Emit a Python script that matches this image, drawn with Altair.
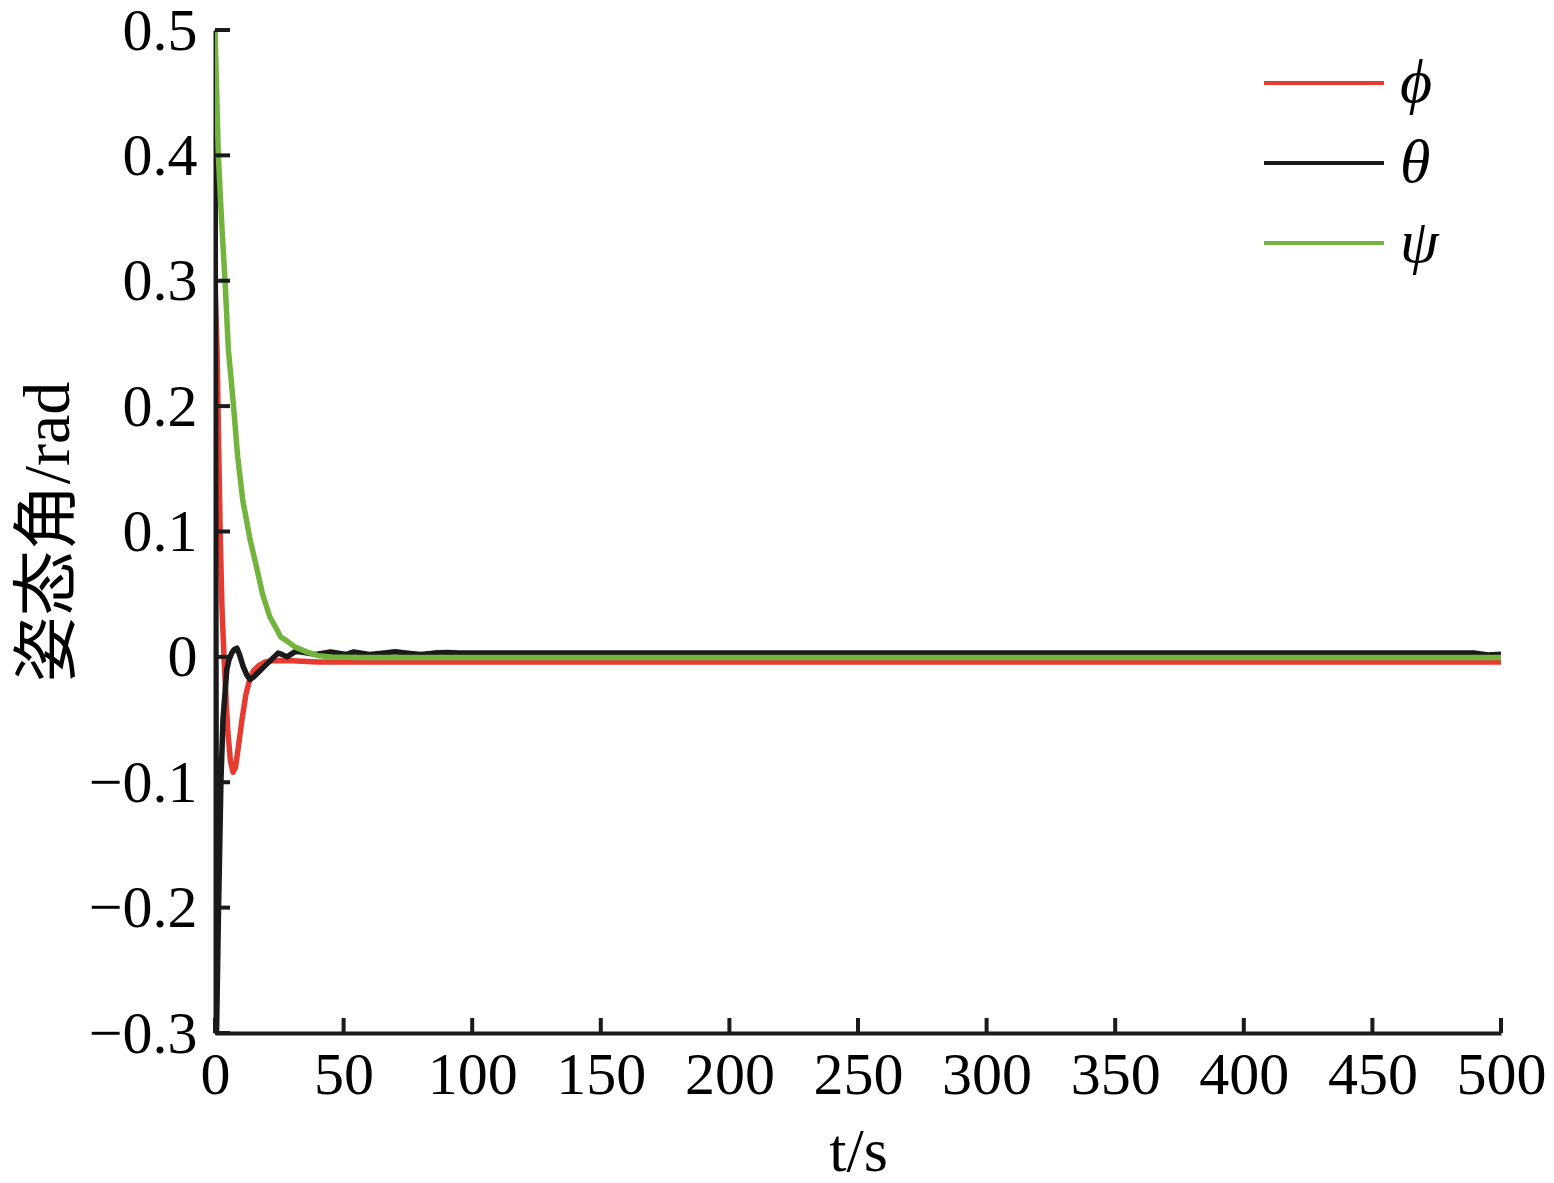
import altair as alt
import pandas as pd

# ---- data ----
phi_t = [0, 0.8, 1.5, 2, 2.7, 3.5, 4.2, 5, 6, 7, 8, 9, 10.5, 12, 13.5, 15, 17, 19.5, 23, 30, 40, 60, 100, 200, 300, 400, 500]
phi_v = [0.3, 0.245, 0.16, 0.1, 0.04, 0.0, -0.03, -0.06, -0.083, -0.092, -0.088, -0.073, -0.05, -0.03, -0.018,
         -0.011, -0.007, -0.004, -0.003, -0.003, -0.004, -0.004, -0.004, -0.004, -0.004, -0.004, -0.004]

theta_t = [0, 0.3, 0.6, 1.3, 2.3, 3.1, 4.6, 5.5, 6.5, 7.5, 8.5, 9.5, 11, 12.5, 13.6, 15, 17, 19, 21, 23, 24.5, 26,
           28, 29.5, 31, 33, 36, 39, 42, 45, 48, 51, 54, 57, 60, 65, 70, 75, 80, 85, 90, 95, 100, 200, 300, 400,
           490, 495, 500]
theta_v = [0.45, 0.1, -0.3, -0.21, -0.1, -0.05, -0.01, -0.002, 0.003, 0.006, 0.007, 0.002, -0.008, -0.015, -0.018,
           -0.016, -0.012, -0.008, -0.004, 0.0, 0.003, 0.002, 0.0, 0.002, 0.004, 0.004, 0.003, 0.002, 0.003, 0.004,
           0.003, 0.002, 0.004, 0.003, 0.002, 0.003, 0.004, 0.003, 0.002, 0.003, 0.0035, 0.003, 0.003, 0.003, 0.003,
           0.003, 0.003, 0.0015, 0.002]

psi_t = [0, 1.3, 2.5, 3.9, 5.2, 7, 8.8, 10.8, 13.5, 16.1, 18.5, 21.3, 24, 25.5, 27.8, 31, 35.6, 40, 45, 55, 100,
         200, 300, 400, 500]
psi_v = [0.5, 0.4, 0.35, 0.3, 0.245, 0.205, 0.16, 0.125, 0.095, 0.072, 0.05, 0.032, 0.022, 0.016, 0.013, 0.008,
         0.004, 0.001, 0.0, -0.0005, -0.0005, -0.0005, -0.0005, -0.0005, -0.0005]

series_names = ["ϕ", "θ", "ψ"]
series_colors = ["#E63B30", "#1A1A1A", "#73B43E"]

x_ticks = [0, 50, 100, 150, 200, 250, 300, 350, 400, 450, 500]
y_ticks = [-0.3, -0.2, -0.1, 0.0, 0.1, 0.2, 0.3, 0.4, 0.5]

# ---- build table ----
rows = []
for name, ts, vs in zip(series_names, [phi_t, theta_t, psi_t], [phi_v, theta_v, psi_v]):
    for i, (t, v) in enumerate(zip(ts, vs)):
        rows.append({"t": t, "v": v, "s": name, "i": i})
df = pd.DataFrame(rows)

W, H = 1286, 1003
SERIF = "Liberation Serif, DejaVu Serif, Noto Sans CJK SC"

xscale = alt.Scale(domain=[0, 500], nice=False, zero=False)
yscale = alt.Scale(domain=[-0.3, 0.5], nice=False, zero=False)

lines = alt.Chart(df).mark_line(strokeWidth=5.5, clip=True, strokeJoin="round").encode(
    x=alt.X("t:Q", scale=xscale,
            axis=alt.Axis(values=x_ticks, title="t/s", ticks=False, grid=False,
                          labelFontSize=60, labelPadding=13, titleFontSize=62, titlePadding=16,
                          labelFlush=False)),
    y=alt.Y("v:Q", scale=yscale,
            axis=alt.Axis(values=y_ticks, title="姿态角/rad", ticks=False, grid=False,
                          labelFontSize=60, labelPadding=18, titleFontSize=66, titlePadding=6,
                          labelFlush=False, labelBaseline="alphabetic", labelOffset=19,
                          labelExpr="datum.value == 0 ? '0' : format(datum.value, '.1f')")),
    color=alt.Color("s:N", scale=alt.Scale(domain=series_names, range=series_colors),
                    legend=alt.Legend(title=None, orient="none", legendX=1078, legendY=22,
                                      symbolType="M-6,0H6", symbolSize=400, symbolStrokeWidth=4,
                                      labelFontSize=62, labelFont=SERIF, labelFontStyle="italic",
                                      labelOffset=45, rowPadding=18, padding=0, labelColor="black")),
    order="i:Q",
)

xt = pd.DataFrame({"t": x_ticks})
yt = pd.DataFrame({"v": y_ticks})

xtick_rules = alt.Chart(xt).mark_rule(color="#1A1A1A", strokeWidth=4).encode(
    x=alt.X("t:Q", scale=xscale), y=alt.value(H), y2=alt.value(H - 15))
ytick_rules = alt.Chart(yt).mark_rule(color="#1A1A1A", strokeWidth=4).encode(
    y=alt.Y("v:Q", scale=yscale), x=alt.value(0), x2=alt.value(15))

chart = alt.layer(lines, xtick_rules, ytick_rules).properties(
    width=W, height=H,
    autosize=alt.AutoSizeParams(type="none"),
    padding={"left": 207, "top": 22, "right": 45, "bottom": 150},
).configure_view(stroke=None).configure_axis(
    domainColor="#1A1A1A", domainWidth=4, labelColor="black", titleColor="black",
    labelFont=SERIF, titleFont=SERIF, titleFontWeight="normal",
)

chart.save("out.html", embed_options={"renderer": "svg", "actions": False})
